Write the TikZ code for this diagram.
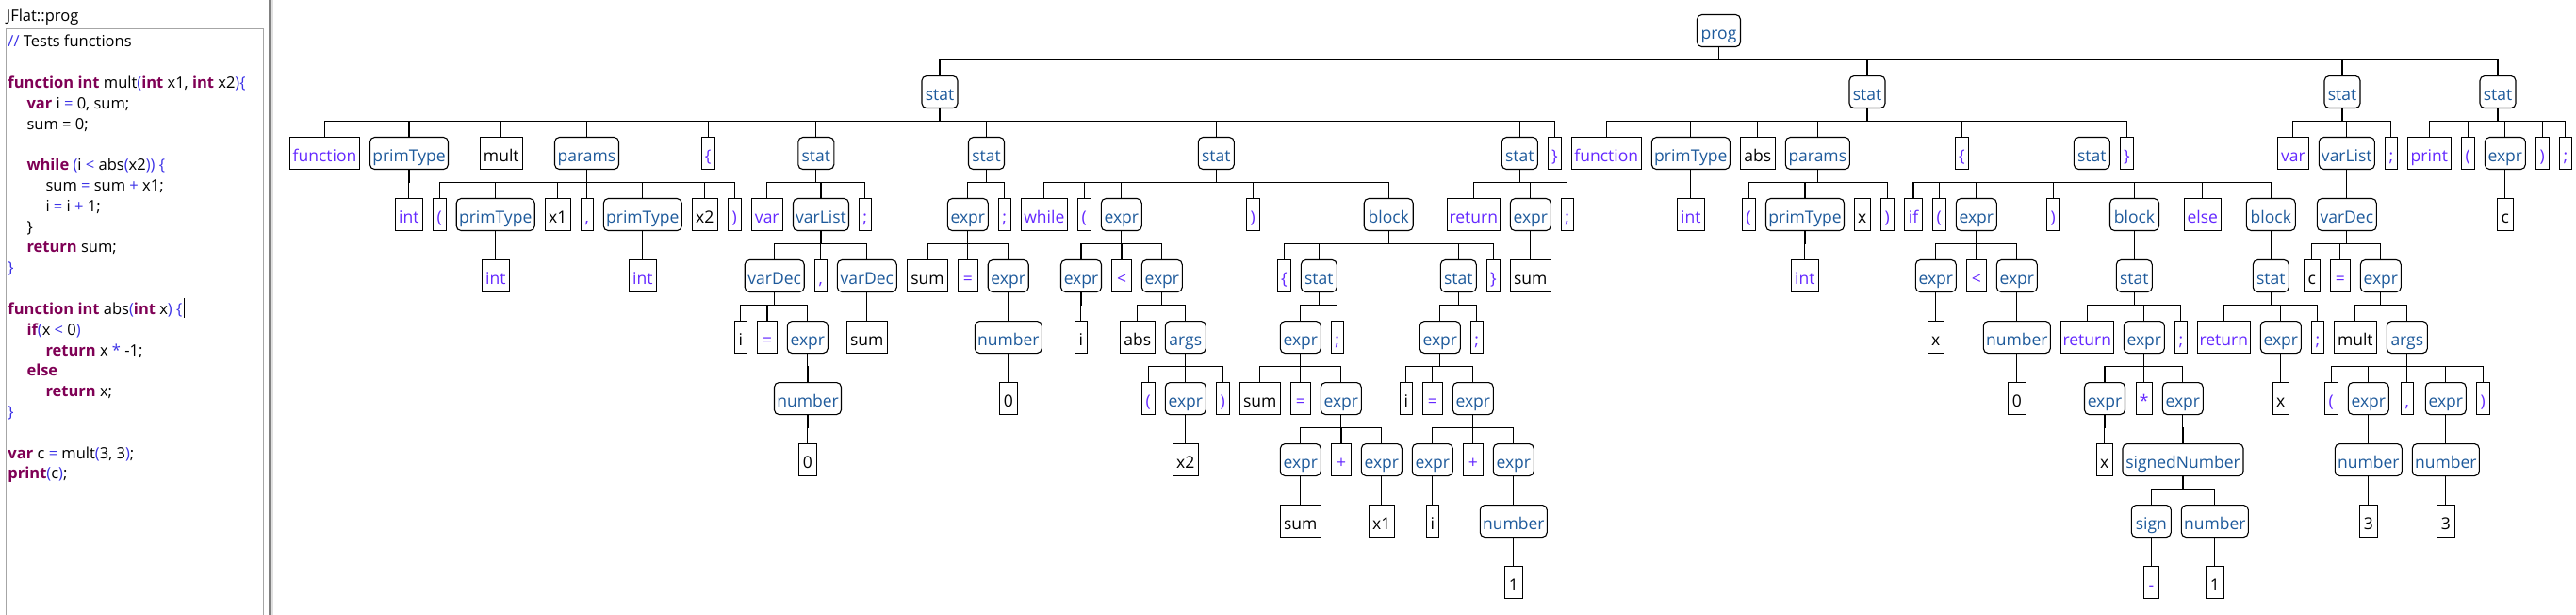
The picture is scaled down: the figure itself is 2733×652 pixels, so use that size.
\documentclass[tikz,border=0pt]{standalone}
\usepackage{fontspec}
\setmainfont{Open Sans}
\definecolor{ntc}{RGB}{30,90,155}
\definecolor{tkc}{RGB}{100,40,255}
\definecolor{kwc}{RGB}{127,0,85}
\definecolor{opc}{RGB}{60,50,230}
\newcommand\treefont{\fontsize{17.5}{20}\selectfont}
\newcommand\codefont{\fontsize{16.5}{19}\selectfont}
\newcommand\kw[1]{\textbf{\color{kwc}#1}}
\newcommand\op[1]{{\color{opc}#1}}
\newcommand\kids[2]{\foreach \kidnode in {#2}{\draw[conn] (#1.south) -- ++(0,13) -| (\kidnode.north);}}
\tikzset{
  basebox/.style={draw, line width=1.1pt, anchor=north, minimum height=34pt, inner xsep=1pt, inner ysep=0pt, text height=17pt, text depth=0pt, font=\treefont},
  ntm/.style={basebox, rounded corners=5pt, text=ntc},
  tkn/.style={basebox, text=tkc},
  idn/.style={basebox, text=black},
  bw/.style={minimum width=#1pt},
  conn/.style={line width=1.1pt},
  codeln/.style={anchor=base west, inner sep=0pt, font=\codefont},
}
\begin{document}
\begin{tikzpicture}[x=1pt,y=-1pt]
\useasboundingbox (0,0) rectangle (2733,652);
% left panel
\node[codeln] (ttl) at (6.7,23) {JFlat::prog};
\draw[line width=1pt, black!35] (6,652) -- (6,30.7) -- (279.3,30.7) -- (279.3,652);
\fill[black!50] (285,0) rectangle (287.3,652);
\fill[black!12] (287.3,0) rectangle (290,652);
\node[codeln] (cl1) at (8.3,50) {\op{//} Tests functions};
\node[codeln] (cl3) at (8.3,93.6) {\kw{function} \kw{int} mult\op{(}\kw{int} x1, \kw{int} x2\op{)\{}};
\node[codeln] (cl4) at (28.3,115.4) {\kw{var} i \op{=} 0, sum;};
\node[codeln] (cl5) at (28.3,137.2) {sum = 0;};
\node[codeln] (cl7) at (28.3,180.8) {\kw{while} \op{(}i \op{<} abs\op{(}x2\op{))} \op{\{}};
\node[codeln] (cl8) at (48.3,202.6) {sum \op{=} sum \op{+} x1;};
\node[codeln] (cl9) at (48.3,224.4) {i \op{=} i \op{+} 1;};
\node[codeln] (cl10) at (28.3,246.2) {\}};
\node[codeln] (cl11) at (28.3,268) {\kw{return} sum;};
\node[codeln] (cl12) at (8.3,289.8) {\op{\}}};
\node[codeln] (cl14) at (8.3,333.4) {\kw{function} \kw{int} abs\op{(}\kw{int} x\op{)} \op{\{}};
\draw[line width=1pt] ([xshift=1.5pt]cl14.base east) ++(0,-17.4) -- ++(0,21);
\node[codeln] (cl15) at (28.3,355.2) {\kw{if}\op{(}x \op{<} 0\op{)}};
\node[codeln] (cl16) at (48.3,377) {\kw{return} x \op{*} -1;};
\node[codeln] (cl17) at (28.3,398.8) {\kw{else}};
\node[codeln] (cl18) at (48.3,420.6) {\kw{return} x;};
\node[codeln] (cl19) at (8.3,442.4) {\op{\}}};
\node[codeln] (cl21) at (8.3,486) {\kw{var} c \op{=} mult\op{(}3, 3\op{)};};
\node[codeln] (cl22) at (8.3,507.8) {\kw{print}\op{(}c\op{)};};
% level 0
\node[ntm,bw=46] (prog) at (1823.5,15) {prog};
% level 1
\node[ntm,bw=38] (sA) at (997,80) {stat};
\node[ntm,bw=38] (sB) at (1981,80) {stat};
\node[ntm,bw=38] (sC) at (2485,80) {stat};
\node[ntm,bw=38] (sD) at (2650,80) {stat};
% level 2
\node[tkn,bw=74] (a1) at (344.5,145) {function};
\node[ntm,bw=83] (a2) at (434,145) {primType};
\node[idn,bw=45] (a3) at (531.8,145) {mult};
\node[ntm,bw=68] (a4) at (622.5,145) {params};
\node[tkn,bw=14] (a5) at (751.3,145) {\{};
\node[ntm,bw=38] (a6) at (865.8,145) {stat};
\node[ntm,bw=38] (a7) at (1046.5,145) {stat};
\node[ntm,bw=38] (a8) at (1290.3,145) {stat};
\node[ntm,bw=38] (a9) at (1612.3,145) {stat};
\node[tkn,bw=14] (a10) at (1649.3,145) {\}};
\node[tkn,bw=74] (b1) at (1704.3,145) {function};
\node[ntm,bw=83] (b2) at (1793.8,145) {primType};
\node[idn,bw=37] (b3) at (1864.8,145) {abs};
\node[ntm,bw=68] (b4) at (1928.3,145) {params};
\node[tkn,bw=14] (b5) at (2081.3,145) {\{};
\node[ntm,bw=38] (b6) at (2219.3,145) {stat};
\node[tkn,bw=14] (b7) at (2256.3,145) {\}};
\node[tkn,bw=33] (c1) at (2432.8,145) {var};
\node[ntm,bw=59] (c2) at (2489.8,145) {varList};
\node[tkn,bw=13] (c3) at (2536.8,145) {;};
\node[tkn,bw=46] (d1) at (2577.3,145) {print};
\node[tkn,bw=14] (d2) at (2618.3,145) {(};
\node[ntm,bw=43] (d3) at (2657.8,145) {expr};
\node[tkn,bw=14] (d4) at (2697.3,145) {)};
\node[tkn,bw=13] (d5) at (2721.8,145) {;};
% level 3
\node[tkn,bw=29] (a2i) at (433.8,210) {int};
\node[tkn,bw=14] (p1) at (466.3,210) {(};
\node[ntm,bw=83] (p2) at (525.7,210) {primType};
\node[idn,bw=27] (p3) at (591.8,210) {x1};
\node[tkn,bw=13] (p4) at (622.8,210) {,};
\node[ntm,bw=83] (p5) at (681.8,210) {primType};
\node[idn,bw=27] (p6) at (747.8,210) {x2};
\node[tkn,bw=14] (p7) at (779.3,210) {)};
\node[tkn,bw=33] (a6a) at (813.8,210) {var};
\node[ntm,bw=59] (a6b) at (871,210) {varList};
\node[tkn,bw=13] (a6c) at (917.8,210) {;};
\node[ntm,bw=43] (a7a) at (1026.8,210) {expr};
\node[tkn,bw=13] (a7b) at (1065.8,210) {;};
\node[tkn,bw=49] (a8a) at (1107.8,210) {while};
\node[tkn,bw=14] (a8b) at (1150.3,210) {(};
\node[ntm,bw=43] (a8c) at (1189.8,210) {expr};
\node[tkn,bw=14] (a8d) at (1329.3,210) {)};
\node[ntm,bw=52] (a8e) at (1473.2,210) {block};
\node[tkn,bw=56] (a9a) at (1563.3,210) {return};
\node[ntm,bw=43] (a9b) at (1623.8,210) {expr};
\node[tkn,bw=13] (a9c) at (1662.8,210) {;};
\node[tkn,bw=29] (b2i) at (1793.8,210) {int};
\node[tkn,bw=14] (q1) at (1855.3,210) {(};
\node[ntm,bw=83] (q2) at (1915,210) {primType};
\node[idn,bw=17] (q3) at (1975.8,210) {x};
\node[tkn,bw=14] (q4) at (2002.3,210) {)};
\node[tkn,bw=19] (b6a) at (2030,210) {if};
\node[tkn,bw=14] (b6b) at (2057.3,210) {(};
\node[ntm,bw=43] (b6c) at (2096.8,210) {expr};
\node[tkn,bw=14] (b6d) at (2178.3,210) {)};
\node[ntm,bw=52] (b6e) at (2264.5,210) {block};
\node[tkn,bw=39] (b6f) at (2336.8,210) {else};
\node[ntm,bw=52] (b6g) at (2409.3,210) {block};
\node[ntm,bw=63] (c2a) at (2489.8,210) {varDec};
\node[idn,bw=17] (d3a) at (2657.8,210) {c};
% level 4
\node[tkn,bw=29] (p2i) at (525.8,275) {int};
\node[tkn,bw=29] (p5i) at (681.8,275) {int};
\node[ntm,bw=63] (v1) at (821.7,275) {varDec};
\node[tkn,bw=13] (v2) at (870.8,275) {,};
\node[ntm,bw=63] (v3) at (919.8,275) {varDec};
\node[idn,bw=43] (e1) at (984,275) {sum};
\node[tkn,bw=21] (e2) at (1026.8,275) {=};
\node[ntm,bw=43] (e3) at (1069.7,275) {expr};
\node[ntm,bw=43] (w1) at (1147,275) {expr};
\node[tkn,bw=21] (w2) at (1190,275) {<};
\node[ntm,bw=43] (w3) at (1232.8,275) {expr};
\node[tkn,bw=14] (k1) at (1362.3,275) {\{};
\node[ntm,bw=38] (k2) at (1399.3,275) {stat};
\node[ntm,bw=38] (k3) at (1547.3,275) {stat};
\node[tkn,bw=14] (k4) at (1584.3,275) {\}};
\node[idn,bw=43] (a9s) at (1623.8,275) {sum};
\node[tkn,bw=29] (q2i) at (1914.8,275) {int};
\node[ntm,bw=43] (f1) at (2053.8,275) {expr};
\node[tkn,bw=21] (f2) at (2096.8,275) {<};
\node[ntm,bw=43] (f3) at (2139.8,275) {expr};
\node[ntm,bw=38] (g1) at (2264.3,275) {stat};
\node[ntm,bw=38] (h1) at (2409.3,275) {stat};
\node[idn,bw=17] (m1) at (2452.8,275) {c};
\node[tkn,bw=21] (m2) at (2482.8,275) {=};
\node[ntm,bw=43] (m3) at (2525.8,275) {expr};
% level 5
\node[idn,bw=13] (v1a) at (785.8,340) {i};
\node[tkn,bw=21] (v1b) at (814,340) {=};
\node[ntm,bw=43] (v1c) at (856.8,340) {expr};
\node[idn,bw=43] (v3a) at (919.8,340) {sum};
\node[ntm,bw=71] (e3n) at (1069.8,340) {number};
\node[idn,bw=13] (w1i) at (1146.8,340) {i};
\node[idn,bw=37] (w3a) at (1206.8,340) {abs};
\node[ntm,bw=43] (w3b) at (1257.8,340) {args};
\node[ntm,bw=43] (k2a) at (1379.8,340) {expr};
\node[tkn,bw=13] (k2b) at (1418.8,340) {;};
\node[ntm,bw=43] (k3a) at (1527.8,340) {expr};
\node[tkn,bw=13] (k3b) at (1566.8,340) {;};
\node[idn,bw=17] (f1x) at (2053.8,340) {x};
\node[ntm,bw=71] (f3n) at (2139.8,340) {number};
\node[tkn,bw=56] (g1a) at (2214.3,340) {return};
\node[ntm,bw=43] (g1b) at (2274.8,340) {expr};
\node[tkn,bw=13] (g1c) at (2313.8,340) {;};
\node[tkn,bw=56] (h1a) at (2359.3,340) {return};
\node[ntm,bw=43] (h1b) at (2419.8,340) {expr};
\node[tkn,bw=13] (h1c) at (2458.8,340) {;};
\node[idn,bw=45] (m3a) at (2498.8,340) {mult};
\node[ntm,bw=43] (m3b) at (2553.8,340) {args};
% level 6
\node[ntm,bw=71] (v1n) at (857,405) {number};
\node[idn,bw=19] (e3z) at (1069.8,405) {0};
\node[tkn,bw=14] (r1) at (1218.3,405) {(};
\node[ntm,bw=43] (r2) at (1257.8,405) {expr};
\node[tkn,bw=14] (r3) at (1297.3,405) {)};
\node[idn,bw=43] (n1) at (1336.8,405) {sum};
\node[tkn,bw=21] (n2) at (1379.8,405) {=};
\node[ntm,bw=43] (n3) at (1422.8,405) {expr};
\node[idn,bw=13] (o1) at (1491.8,405) {i};
\node[tkn,bw=21] (o2) at (1519.8,405) {=};
\node[ntm,bw=43] (o3) at (1562.8,405) {expr};
\node[idn,bw=19] (f3z) at (2139.8,405) {0};
\node[ntm,bw=43] (t1) at (2233,405) {expr};
\node[tkn,bw=17] (t2) at (2274.7,405) {*};
\node[ntm,bw=43] (t3) at (2315.8,405) {expr};
\node[idn,bw=17] (h1x) at (2419.8,405) {x};
\node[tkn,bw=14] (u1) at (2473.3,405) {(};
\node[ntm,bw=43] (u2) at (2512.8,405) {expr};
\node[tkn,bw=13] (u3) at (2553.8,405) {,};
\node[ntm,bw=43] (u4) at (2594.8,405) {expr};
\node[tkn,bw=14] (u5) at (2634.3,405) {)};
% level 7
\node[idn,bw=19] (v1z) at (856.8,470) {0};
\node[idn,bw=27] (r2x) at (1257.8,470) {x2};
\node[ntm,bw=43] (n3a) at (1379.8,470) {expr};
\node[tkn,bw=21] (n3b) at (1423,470) {+};
\node[ntm,bw=43] (n3c) at (1465.8,470) {expr};
\node[ntm,bw=43] (o3a) at (1519.8,470) {expr};
\node[tkn,bw=21] (o3b) at (1562.8,470) {+};
\node[ntm,bw=43] (o3c) at (1605.8,470) {expr};
\node[idn,bw=17] (t1x) at (2232.8,470) {x};
\node[ntm,bw=128] (t3s) at (2316,470) {signedNumber};
\node[ntm,bw=71] (u2n) at (2512.8,470) {number};
\node[ntm,bw=71] (u4n) at (2594.8,470) {number};
% level 8
\node[idn,bw=43] (n3s) at (1379.8,535) {sum};
\node[idn,bw=27] (n3x) at (1465.8,535) {x1};
\node[idn,bw=13] (o3i) at (1519.8,535) {i};
\node[ntm,bw=71] (o3n) at (1605.8,535) {number};
\node[ntm,bw=42] (s1) at (2282.3,535) {sign};
\node[ntm,bw=71] (s2) at (2349.8,535) {number};
\node[idn,bw=19] (u2z) at (2512.8,535) {3};
\node[idn,bw=19] (u4z) at (2594.8,535) {3};
% level 9
\node[idn,bw=19] (o3z) at (1605.8,600) {1};
\node[tkn,bw=16] (s1m) at (2282.3,600) {-};
\node[idn,bw=19] (s2z) at (2349.8,600) {1};
% connectors
\kids{prog}{sA,sB,sC,sD}
\kids{sA}{a1,a2,a3,a4,a5,a6,a7,a8,a9,a10}
\kids{sB}{b1,b2,b3,b4,b5,b6,b7}
\kids{sC}{c1,c2,c3}
\kids{sD}{d1,d2,d3,d4,d5}
\kids{a2}{a2i}
\kids{a4}{p1,p2,p3,p4,p5,p6,p7}
\kids{a6}{a6a,a6b,a6c}
\kids{a7}{a7a,a7b}
\kids{a8}{a8a,a8b,a8c,a8d,a8e}
\kids{a9}{a9a,a9b,a9c}
\kids{b2}{b2i}
\kids{b4}{q1,q2,q3,q4}
\kids{b6}{b6a,b6b,b6c,b6d,b6e,b6f,b6g}
\kids{c2}{c2a}
\kids{d3}{d3a}
\kids{p2}{p2i}
\kids{p5}{p5i}
\kids{a6b}{v1,v2,v3}
\kids{a7a}{e1,e2,e3}
\kids{a8c}{w1,w2,w3}
\kids{a8e}{k1,k2,k3,k4}
\kids{a9b}{a9s}
\kids{q2}{q2i}
\kids{b6c}{f1,f2,f3}
\kids{b6e}{g1}
\kids{b6g}{h1}
\kids{c2a}{m1,m2,m3}
\kids{v1}{v1a,v1b,v1c}
\kids{v3}{v3a}
\kids{e3}{e3n}
\kids{w1}{w1i}
\kids{w3}{w3a,w3b}
\kids{k2}{k2a,k2b}
\kids{k3}{k3a,k3b}
\kids{f1}{f1x}
\kids{f3}{f3n}
\kids{g1}{g1a,g1b,g1c}
\kids{h1}{h1a,h1b,h1c}
\kids{m3}{m3a,m3b}
\kids{v1c}{v1n}
\kids{e3n}{e3z}
\kids{w3b}{r1,r2,r3}
\kids{k2a}{n1,n2,n3}
\kids{k3a}{o1,o2,o3}
\kids{f3n}{f3z}
\kids{g1b}{t1,t2,t3}
\kids{h1b}{h1x}
\kids{m3b}{u1,u2,u3,u4,u5}
\kids{v1n}{v1z}
\kids{r2}{r2x}
\kids{n3}{n3a,n3b,n3c}
\kids{o3}{o3a,o3b,o3c}
\kids{t1}{t1x}
\kids{t3}{t3s}
\kids{u2}{u2n}
\kids{u4}{u4n}
\kids{n3a}{n3s}
\kids{n3c}{n3x}
\kids{o3a}{o3i}
\kids{o3c}{o3n}
\kids{t3s}{s1,s2}
\kids{u2n}{u2z}
\kids{u4n}{u4z}
\kids{o3n}{o3z}
\kids{s1}{s1m}
\kids{s2}{s2z}
\end{tikzpicture}
\end{document}
